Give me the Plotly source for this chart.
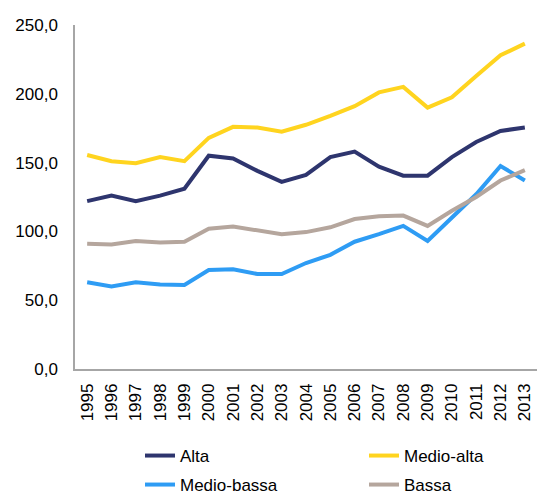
import plotly.graph_objects as go

years = [str(y) for y in range(1995, 2014)]
alta = [122, 126, 122, 126, 131, 155, 153, 144, 136, 141, 154, 158, 147, 140.5, 140.5, 154, 165, 173, 175.5]
medio_alta = [155.5, 151, 149.5, 154, 151, 168, 176, 175.5, 172.5, 177.5, 184, 191, 201, 205, 190, 197.5, 213, 228, 236.5]
medio_bassa = [63, 60, 63, 61.5, 61, 72, 72.5, 69, 69, 77, 83, 92.5, 98, 104, 93, 110, 127, 147.5, 137]
bassa = [91, 90.5, 93, 92, 92.5, 102, 103.5, 100.5, 98, 99.5, 103, 109, 111, 111.5, 104, 115, 125, 137, 144.5]

series = [
    ("Alta", alta, "#2E356E", "legend"),
    ("Medio-alta", medio_alta, "#FFD41F", "legend"),
    ("Medio-bassa", medio_bassa, "#2E9CF4", "legend2"),
    ("Bassa", bassa, "#B5A69D", "legend2"),
]

fig = go.Figure()
for name, vals, color, lg in series:
    fig.add_trace(go.Scatter(x=years, y=vals, name=name, mode="lines",
                             line=dict(color=color, width=4), legend=lg,
                             cliponaxis=False))

font = dict(family="Liberation Sans, Arial, sans-serif", size=17, color="#000000")
legend_common = dict(orientation="h", xref="container", yref="container",
                     xanchor="left", yanchor="middle", entrywidth=179,
                     entrywidthmode="pixels", font=font, bgcolor="rgba(0,0,0,0)",
                     borderwidth=0)

fig.update_layout(
    width=537, height=497,
    margin=dict(l=75, r=0, t=25, b=128, autoexpand=False),
    plot_bgcolor="white", paper_bgcolor="white",
    font=font,
    separators=",.",
    showlegend=True,
    legend=dict(x=140/537, y=1 - 456/497, **legend_common),
    legend2=dict(x=140/537, y=1 - 485/497, **legend_common),
    xaxis=dict(type="category", range=[-0.5, 18.5], tickangle=-90,
               showline=True, linecolor="#A6A6A6", linewidth=1.5,
               showgrid=False, ticks="", ticklabelstandoff=6, tickfont=font,
               zeroline=False, automargin=False),
    yaxis=dict(range=[0, 250], dtick=50, tickformat=".1f",
               showline=True, linecolor="#A6A6A6", linewidth=1.5,
               showgrid=False, ticks="", ticklabelstandoff=12, tickfont=font,
               zeroline=False, automargin=False),
)

fig.write_html("out.html", config={"displayModeBar": False},
               post_script="document.body.style.margin='0';document.body.style.overflow='hidden';")
